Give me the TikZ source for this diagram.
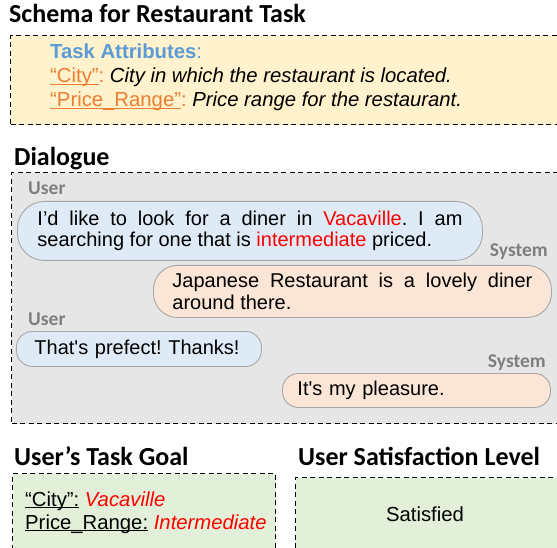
\documentclass[tikz,border=0pt]{standalone}
\usepackage{fontspec}
\setmainfont{Liberation Sans}
\newfontfamily\headfont{Carlito}
\usetikzlibrary{positioning}
\frenchspacing

\definecolor{schemafill}{HTML}{FFF2CC}
\definecolor{dialfill}{HTML}{E7E6E6}
\definecolor{goalfill}{HTML}{E2F0D9}
\definecolor{userfill}{HTML}{DEEBF7}
\definecolor{sysfill}{HTML}{FBE5D6}
\definecolor{bubbleline}{HTML}{A6A6A6}
\definecolor{speakergray}{HTML}{7F7F7F}
\definecolor{attrblue}{HTML}{5B9BD5}
\definecolor{attrorange}{HTML}{ED7D31}
\definecolor{slotred}{HTML}{FF0000}

% underline that sits close to the baseline
\newcommand\attrline[1]{\setbox0\hbox{#1}\rlap{\rule[-2.2pt]{\wd0}{0.9pt}}\box0\relax}

\tikzset{
  heading/.style={anchor=base west, inner sep=0pt,
    font=\headfont\bfseries\fontsize{26}{30}\selectfont},
  speaker/.style={inner sep=0pt, text=speakergray,
    font=\headfont\bfseries\fontsize{19.5}{23}\selectfont},
  dashbox/.style={draw, dash pattern=on 5pt off 3.5pt, line width=1.1pt,
    anchor=north west, inner sep=0pt},
  body/.style={inner sep=0pt, anchor=base west, font=\fontsize{20.3}{24}\selectfont},
  bubble/.style={draw=bubbleline, line width=0.9pt, anchor=north west,
    inner xsep=19pt, inner ysep=0pt, align=justify,
    font=\fontsize{20}{21.5}\selectfont},
  userbubble/.style={bubble, fill=userfill},
  sysbubble/.style={bubble, fill=sysfill}
}

\begin{document}
\begin{tikzpicture}[x=1pt, y=-1pt]
  \useasboundingbox (0,0) rectangle (557,548);
  \clip (0,0) rectangle (557,548);

  % schema
  \node[heading] (schematitle) at (9,23) {Schema for Restaurant Task};
  \node[dashbox, fill=schemafill, minimum width=560pt, minimum height=89pt] (schemabox) at (10,35) {};
  \node[body, text=attrblue] (attrs) at (50,59) {\textbf{Task Attributes}:};
  \node[body] (city) at (50,83) {\textcolor{attrorange}{\attrline{“City”}:} \textit{City in which the restaurant is located.}};
  \node[body] (price) at (50,107) {\textcolor{attrorange}{\attrline{“Price\_Range”}:} \textit{Price range for the restaurant.}};

  % dialogue
  \node[heading] (dialtitle) at (14,166) {Dialogue};
  \node[dashbox, fill=dialfill, minimum width=560pt, minimum height=251pt] (dialbox) at (11,172) {};

  \node[speaker, anchor=base west] (user1) at (28,195) {User};
  \node[userbubble, text width=425pt, inner xsep=20pt, minimum height=59pt, rounded corners=27pt] (turn1) at (17,201)
    {I’d like to look for a diner in \textcolor{slotred}{Vacaville}. I am\linebreak searching for one that is \textcolor{slotred}{intermediate} priced.};

  \node[speaker, anchor=base east] (sys1) at (548,257) {System};
  \node[sysbubble, text width=360pt, minimum height=52pt, rounded corners=24pt] (turn2) at (153,265)
    {Japanese Restaurant is a lovely diner\linebreak around there.};

  \node[speaker, anchor=base west] (user2) at (28,325) {User};
  \node[userbubble, text width=209pt, inner xsep=18pt, minimum height=35pt, rounded corners=16pt, align=left] (turn3) at (16,331)
    {\mbox{That\textquotesingle s prefect! Thanks!}};

  \node[speaker, anchor=base east] (sys2) at (546,367) {System};
  \node[sysbubble, text width=238pt, inner xsep=15pt, minimum height=34pt, rounded corners=16pt, align=left] (turn4) at (282,373)
    {\mbox{It\textquotesingle s my pleasure.}};

  % goal and satisfaction
  \node[heading] (goaltitle) at (14,465) {User’s Task Goal};
  \node[dashbox, fill=goalfill, minimum width=263pt, minimum height=100pt] (goalbox) at (12,473) {};
  \node[body] (goalcity) at (25,506) {\attrline{“City”:} \textit{\textcolor{slotred}{Vacaville}}};
  \node[body] (goalprice) at (25,529) {\attrline{Price\_Range:} \textit{\textcolor{slotred}{Intermediate}}};

  \node[heading] (sattitle) at (298,465) {User Satisfaction Level};
  \node[dashbox, fill=goalfill, minimum width=270pt, minimum height=100pt] (satbox) at (295,477) {};
  \node[body, anchor=base] (satlevel) at (425,521) {Satisfied};
\end{tikzpicture}
\end{document}
